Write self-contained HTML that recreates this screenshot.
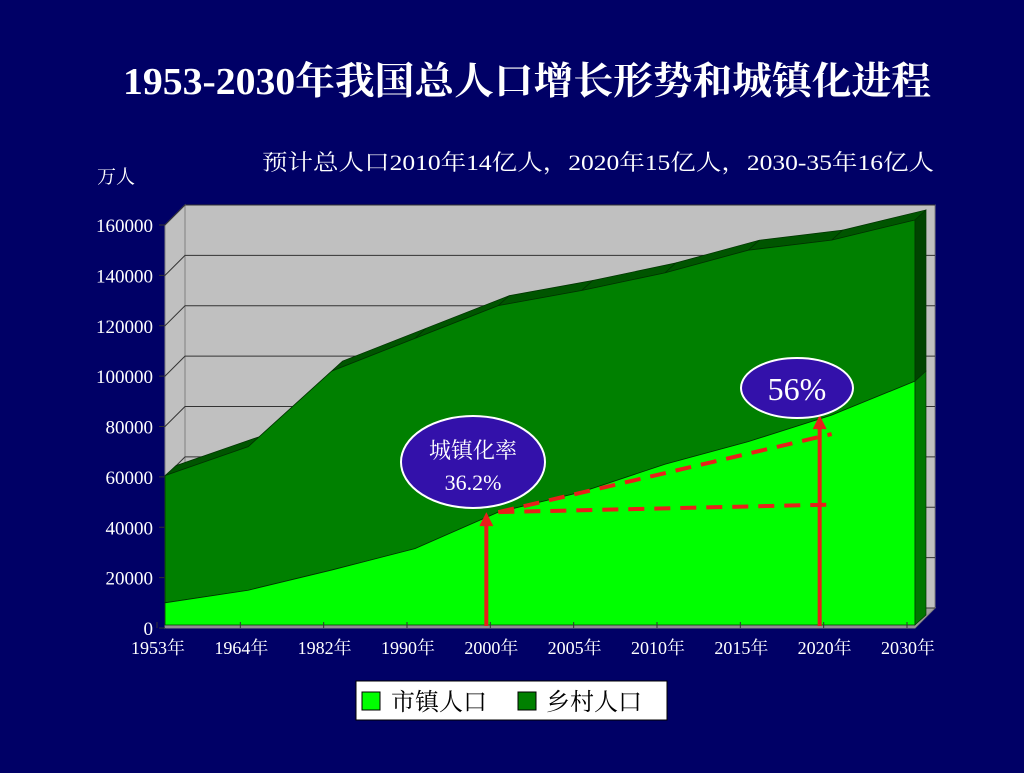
<!DOCTYPE html>
<html><head><meta charset="utf-8"><style>
html,body{margin:0;padding:0;background:#000066;}
body{width:1024px;height:768px;overflow:hidden;position:relative;font-family:"Liberation Serif","Noto Serif CJK SC",serif;}
</style></head><body>
<svg id="chart" width="1024" height="768" xmlns="http://www.w3.org/2000/svg">
<rect width="1024" height="768" fill="#000066"/>
<text x="527" y="94" text-anchor="middle" fill="#fff" font-size="38" font-weight="bold" textLength="808" lengthAdjust="spacingAndGlyphs" font-family="Liberation Serif, Noto Serif CJK SC, serif">1953-2030年我国总人口增长形势和城镇化进程</text>
<text x="598" y="170" text-anchor="middle" fill="#fff" font-size="22" textLength="672" lengthAdjust="spacingAndGlyphs" font-family="Liberation Serif, Noto Serif CJK SC, serif">预计总人口2010年14亿人，2020年15亿人，2030-35年16亿人</text>
<text x="116" y="183" text-anchor="middle" fill="#fff" font-size="19" font-family="Liberation Serif, Noto Serif CJK SC, serif">万人</text>
<g id="plot"></g>
<g id="annot"></g>
<g>
<rect x="356" y="681" width="311" height="39" fill="#fff" stroke="#000"/>
<rect x="362" y="692" width="18" height="18" fill="#00ff00" stroke="#000"/>
<text x="391" y="710" fill="#000" font-size="24" font-family="Liberation Serif, Noto Serif CJK SC, serif">市镇人口</text>
<rect x="518" y="692" width="18" height="18" fill="#008000" stroke="#000"/>
<text x="546" y="710" fill="#000" font-size="24" font-family="Liberation Serif, Noto Serif CJK SC, serif">乡村人口</text>
</g>
</svg>
<script>
const categories=["1953年","1964年","1982年","1990年","2000年","2005年","2010年","2015年","2020年","2030年"];
const urban=[10000,15000,23000,31500,46000,54000,65000,74000,84500,98000];
const rural=[50500,57000,79000,83500,82000,80000,76000,76000,69500,64000];
const yTicks=[0,20000,40000,60000,80000,100000,120000,140000,160000];
const NS="http://www.w3.org/2000/svg";
const plot=document.getElementById('plot');
const X0=165,X1=915,Y0=628,YT=225,YMAX=160000,DX=20,DY=-20,AX=11,AY=-10;
function x(i){return X0+i*(X1-X0)/(categories.length-1);}
function y(v){return Y0-(v/YMAX)*(Y0-YT);}
function mk(tag,attrs,parent){const e=document.createElementNS(NS,tag);for(const k in attrs)e.setAttribute(k,attrs[k]);(parent||plot).appendChild(e);return e;}
let w=mk('polygon',{points:`${X0+DX},${y(YMAX)+DY} ${X1+DX},${y(YMAX)+DY} ${X1+DX},${Y0+DY} ${X0+DX},${Y0+DY}`,fill:'#c0c0c0',stroke:'#808080'});


let lw=mk('polygon',{points:`${X0},${y(YMAX)} ${X0+DX},${y(YMAX)+DY} ${X0+DX},${Y0+DY} ${X0},${Y0}`,fill:'#c0c0c0',stroke:'#808080'});


let fl=mk('polygon',{points:`${X0},${Y0} ${X0+DX},${Y0+DY} ${X1+DX},${Y0+DY} ${X1},${Y0}`,fill:'#a0a0a0',stroke:'#808080'});


yTicks.forEach(t=>{
  const yy=y(t);
  let g=mk('polyline',{points:`${X0-6},${yy} ${X0},${yy} ${X0+DX},${yy+DY} ${X1+DX},${yy+DY}`,fill:'none',stroke:'#333','stroke-width':1});
  
  
  let tx=mk('text',{x:X0-12,y:yy+7,'text-anchor':'end',fill:'#fff','font-size':19});
  tx.textContent=t;
  
  
});
let fs=mk('rect',{x:X0,y:Y0-6,width:X1-X0,height:6,fill:'#909090'});


const n=categories.length;
const tot=urban.map((u,i)=>u+rural[i]);
function area(top,bot,fill,name,strip){
  if(strip){
  for(let i=0;i<n-1;i++){
    let s=mk('polygon',{points:`${x(i)},${y(top[i])} ${x(i+1)},${y(top[i+1])} ${x(i+1)+AX},${y(top[i+1])+AY} ${x(i)+AX},${y(top[i])+AY}`,fill:'#005500',stroke:'#003300','stroke-width':0.7});
    
    
  }}
  let pts=[];for(let i=0;i<n;i++)pts.push(`${x(i)},${y(top[i])}`);
  for(let i=n-1;i>=0;i--)pts.push(`${x(i)},${bot?y(bot[i]):Y0-3}`);
  let p=mk('polygon',{points:pts.join(' '),fill:fill,stroke:'#003300','stroke-width':0.8});
  
  
  let e=mk('polygon',{points:`${X1},${y(top[n-1])} ${X1+AX},${y(top[n-1])+AY} ${X1+AX},${(bot?y(bot[n-1]):Y0-3)+AY} ${X1},${bot?y(bot[n-1]):Y0-3}`,fill:bot?'#004400':'#007700',stroke:'#003300','stroke-width':0.7});
  
  
}
area(tot,urban,'#008000','rural',true);
area(urban,null,'#00ff00','urban',false);
categories.forEach((c,i)=>{
  let tk=mk('line',{x1:x(i)-8,y1:Y0-6,x2:x(i)-8,y2:Y0,stroke:'#333'});
  
  
  let t=mk('text',{x:x(i)-7,y:Y0+26,'text-anchor':'middle',fill:'#fff','font-size':18});
  t.textContent=c;
  
  
});
const an=document.getElementById('annot');
const i0=4,i1=8;
let d1=mk('path',{d:`M${x(i0)},${y(urban[i0])} L${x(i1)},${y(49000)}`,fill:'none',stroke:'#e8201a','stroke-width':4,'stroke-dasharray':'16,10'},an);


let d2=mk('path',{d:`M${x(i0)},${y(urban[i0])} L${x(i1)},${y(77000)}`,fill:'none',stroke:'#e8201a','stroke-width':4,'stroke-dasharray':'16,10'},an);


[[i0,urban[i0]],[i1,urban[i1]]].forEach(([i,v],k)=>{
  const xx=x(i)-12;
  let l=mk('line',{x1:xx,y1:Y0-2,x2:xx,y2:y(v)+12,stroke:'#e8201a','stroke-width':4},an);
  
  
  let h=mk('polygon',{points:`${xx-7},${y(v)+14} ${xx+7},${y(v)+14} ${xx},${y(v)}`,fill:'#e8201a'},an);
  
  
});
let e1=mk('ellipse',{cx:473,cy:462,rx:72,ry:46,fill:'#3311aa',stroke:'#fff','stroke-width':2},an);


let t1=mk('text',{x:473,y:458,'text-anchor':'middle',fill:'#fff','font-size':22},an);t1.textContent='城镇化率';


let t2=mk('text',{x:473,y:490,'text-anchor':'middle',fill:'#fff','font-size':22},an);t2.textContent='36.2%';


let e2=mk('ellipse',{cx:797,cy:388,rx:56,ry:30,fill:'#3311aa',stroke:'#fff','stroke-width':2},an);


let t3=mk('text',{x:797,y:400,'text-anchor':'middle',fill:'#fff','font-size':32},an);t3.textContent='56%';


</script>
</body></html>
